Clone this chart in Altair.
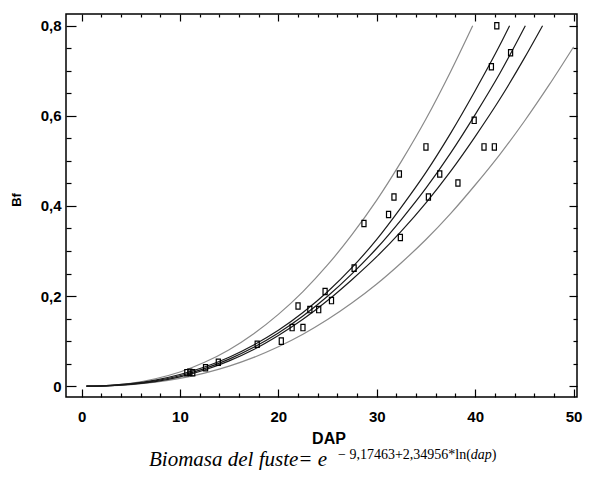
import altair as alt
import pandas as pd

# ---- observed data (DAP, Bf) ----
obs_x = [10.7, 11.0, 11.3, 12.6, 13.9, 17.85, 20.3, 21.4, 22.0, 22.5, 23.2, 24.1,
         24.75, 25.4, 27.7, 28.7, 31.2, 31.75, 32.3, 32.4, 35.0, 35.25, 36.4, 38.25,
         39.9, 40.9, 41.65, 41.95, 42.2, 43.6]
obs_y = [0.030, 0.031, 0.030, 0.041, 0.053, 0.093, 0.100, 0.130, 0.178, 0.130, 0.170, 0.170,
         0.210, 0.190, 0.262, 0.361, 0.381, 0.420, 0.471, 0.330, 0.531, 0.420, 0.471, 0.451,
         0.590, 0.531, 0.709, 0.531, 0.800, 0.740]

# ---- curves ----
fit_x = [0.5, 2.5, 5, 7.5, 10, 12.5, 15, 17.5, 20, 22.5, 25, 27.5, 30, 32.5, 35, 37.5, 40, 42.5, 45.1]
fit_y = [0.00002, 0.0009, 0.0046, 0.0118, 0.0232, 0.0391, 0.0601, 0.0863, 0.1181, 0.1557, 0.1995,
         0.2498, 0.3061, 0.3699, 0.4394, 0.5172, 0.6028, 0.694, 0.80]

cup_x = [0.5, 2.5, 5, 7.5, 10, 12.5, 15, 17.5, 20, 22.5, 25, 27.5, 30, 32.5, 35, 37.5, 40, 42.5, 43.5]
cup_y = [0.00003, 0.0012, 0.0055, 0.0136, 0.026, 0.0426, 0.0643, 0.0915, 0.124, 0.1635, 0.2095,
         0.2635, 0.326, 0.3976, 0.4746, 0.5612, 0.6558, 0.7565, 0.80]

clo_x = [0.5, 2.5, 5, 7.5, 10, 12.5, 15, 17.5, 20, 22.5, 25, 27.5, 30, 32.5, 35, 37.5, 40, 42.5, 45, 46.85]
clo_y = [0.000013, 0.0007, 0.0038, 0.0103, 0.0207, 0.0359, 0.0562, 0.0814, 0.1125, 0.1483, 0.19,
         0.2368, 0.2874, 0.3441, 0.4069, 0.4767, 0.554, 0.6367, 0.728, 0.80]

pup_x = [0.5, 2.5, 5, 7.5, 10, 12.5, 15, 17.5, 20, 22.5, 25, 27.5, 30, 32.5, 35, 37.5, 39.75]
pup_y = [0.00003, 0.0013, 0.0064, 0.0165, 0.0315, 0.053, 0.081, 0.1165, 0.1594, 0.210, 0.269,
         0.337, 0.413, 0.499, 0.593, 0.698, 0.80]

plo_x = [0.5, 2.5, 5, 7.5, 10, 12.5, 15, 17.5, 20, 22.5, 25, 27.5, 30, 32.5, 35, 37.5, 40, 42.5, 45, 47.5, 50]
plo_y = [0.000014, 0.00064, 0.0033, 0.0087, 0.0172, 0.029, 0.0445, 0.0639, 0.0875, 0.1153, 0.1478,
         0.185, 0.2267, 0.274, 0.3255, 0.383, 0.4465, 0.514, 0.588, 0.668, 0.753]

# ---- ticks ----
x_major = [0, 10, 20, 30, 40, 50]
x_minor = [2, 4, 6, 8, 12, 14, 16, 18, 22, 24, 26, 28, 32, 34, 36, 38, 42, 44, 46, 48]
y_major = [0, 0.2, 0.4, 0.6, 0.8]
y_minor = [0.05, 0.1, 0.15, 0.25, 0.3, 0.35, 0.45, 0.5, 0.55, 0.65, 0.7, 0.75]

x_title = "DAP"
y_title = "Bf"
caption_main = "Biomasa del fuste= e"
caption_sup = "\u2212 9,17463+2,34956*ln("
caption_var = "dap"
caption_end = ")"

SANS = "Liberation Sans, Arial, sans-serif"
SERIF = "Liberation Serif, Times New Roman, serif"

xs = alt.Scale(domain=[-1.58, 50.35], nice=False, zero=False)
ys = alt.Scale(domain=[-0.024, 0.826], nice=False, zero=False)


def ax(orient, values, size, labels=False, **kw):
    args = dict(orient=orient, values=values, tickSize=size, offset=-size,
                domain=False, grid=False, labels=labels, ticks=True, title=None,
                tickColor="black", tickWidth=1.2)
    args.update(kw)
    return alt.Axis(**args)


ax_x_bottom = ax("bottom", x_major, 8, labels=True, format="d",
                 labelFont=SANS, labelFontSize=15, labelFontWeight="bold",
                 labelPadding=12, labelColor="black")
ax_y_left = ax("left", y_major, 10, labels=True,
               labelExpr="datum.value == 0 ? '0' : replace(format(datum.value, '.1f'), '.', ',')",
               labelFont=SANS, labelFontSize=15, labelFontWeight="bold",
               labelPadding=5, labelColor="black")


def line_df(xv, yv):
    return pd.DataFrame({"x": xv, "y": yv})


gray = "#8a8a8a"
dark = "#1a1a1a"

l_pup = alt.Chart(line_df(pup_x, pup_y)).mark_line(color=gray, strokeWidth=1.2, interpolate="monotone").encode(
    x=alt.X("x:Q", scale=xs, axis=ax_x_bottom),
    y=alt.Y("y:Q", scale=ys, axis=ax_y_left),
)
l_plo = alt.Chart(line_df(plo_x, plo_y)).mark_line(color=gray, strokeWidth=1.2, interpolate="monotone").encode(
    x=alt.X("x:Q", scale=xs, axis=ax("bottom", x_minor, 4)),
    y=alt.Y("y:Q", scale=ys, axis=ax("left", y_minor, 5)),
)
l_cup = alt.Chart(line_df(cup_x, cup_y)).mark_line(color=dark, strokeWidth=1.2, interpolate="monotone").encode(
    x=alt.X("x:Q", scale=xs, axis=ax("top", x_major, 7)),
    y=alt.Y("y:Q", scale=ys, axis=ax("right", y_major, 8)),
)
l_clo = alt.Chart(line_df(clo_x, clo_y)).mark_line(color=dark, strokeWidth=1.2, interpolate="monotone").encode(
    x=alt.X("x:Q", scale=xs, axis=ax("top", x_minor, 3)),
    y=alt.Y("y:Q", scale=ys, axis=ax("right", y_minor, 4)),
)
l_fit = alt.Chart(line_df(fit_x, fit_y)).mark_line(color=dark, strokeWidth=1.2, interpolate="monotone").encode(
    x=alt.X("x:Q", scale=xs, axis=None),
    y=alt.Y("y:Q", scale=ys, axis=None),
)
pts = alt.Chart(pd.DataFrame({"x": obs_x, "y": obs_y})).mark_point(
    shape="M-0.65,-1L0.65,-1L0.65,1L-0.65,1Z", size=40, filled=False,
    color="black", strokeWidth=1.2, opacity=1
).encode(
    x=alt.X("x:Q", scale=xs, axis=None),
    y=alt.Y("y:Q", scale=ys, axis=None),
)

txt_df = pd.DataFrame({"a": [caption_main], "b": [caption_sup], "c": [caption_var],
                       "d": [caption_end], "xt": [x_title], "yt": [y_title]})
t_y = alt.Chart(txt_df).mark_text(font=SANS, fontSize=13, fontWeight="bold", angle=270,
                                  align="center", baseline="middle", color="black").encode(
    x=alt.value(-49), y=alt.value(186), text="yt:N")
t_x = alt.Chart(txt_df).mark_text(font=SANS, fontSize=16, fontWeight="bold",
                                  align="center", baseline="middle", color="black").encode(
    x=alt.value(263), y=alt.value(425), text="xt:N")
t1 = alt.Chart(txt_df).mark_text(font=SERIF, fontSize=21, fontStyle="italic", align="left",
                                 baseline="alphabetic", color="black").encode(
    x=alt.value(83), y=alt.value(452), text="a:N")
t2 = alt.Chart(txt_df).mark_text(font=SERIF, fontSize=14, align="left",
                                 baseline="alphabetic", color="black").encode(
    x=alt.value(272), y=alt.value(445), text="b:N")
t3 = alt.Chart(txt_df).mark_text(font=SERIF, fontSize=14, fontStyle="italic", align="left",
                                 baseline="alphabetic", color="black").encode(
    x=alt.value(404.8), y=alt.value(445), text="c:N")
t4 = alt.Chart(txt_df).mark_text(font=SERIF, fontSize=14, align="left",
                                 baseline="alphabetic", color="black").encode(
    x=alt.value(425.8), y=alt.value(445), text="d:N")

chart = alt.layer(l_pup, l_plo, l_cup, l_clo, l_fit, pts, t_y, t_x, t1, t2, t3, t4).resolve_axis(
    x="independent", y="independent"
).properties(
    width=511, height=383,
    autosize=alt.AutoSizeParams(type="none"),
    padding={"left": 58, "top": 6, "right": 6, "bottom": 73},
    background="white",
).configure_view(stroke="black", strokeWidth=1.5)

chart.save("out.html", embed_options={"renderer": "svg", "actions": False})
